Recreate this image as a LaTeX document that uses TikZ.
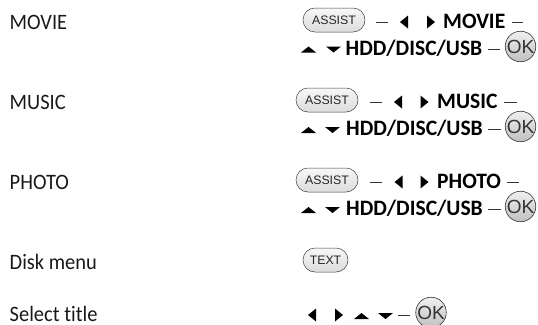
\documentclass[tikz,border=0pt]{standalone}
\usepackage{fontspec}
\setmainfont[Ligatures=NoCommon,FakeStretch=0.93]{Carlito}
\newfontfamily\boldcmdfont[Ligatures=NoCommon,FakeStretch=0.98]{Carlito Bold}
\newfontfamily\keyfont{Liberation Sans}
\tikzset{
  x=1pt,y=-1pt,
  rowlabel/.style={anchor=base west,inner sep=0pt,font=\fontsize{22}{24}\selectfont,text=black!90},
  cmd/.style={anchor=base west,inner sep=0pt,font=\boldcmdfont\fontsize{22}{24}\selectfont,text=black},
  keypill/.style={draw=black!75,line width=0.5pt,rounded corners=12pt,top color=black!3,bottom color=black!14,inner sep=0pt,minimum height=24pt,font=\keyfont\fontsize{12.3}{13}\selectfont,text=black!85},
  okbtn/.style={draw=black!80,line width=0.6pt,circle,inner sep=0pt,minimum size=29.5pt,top color=black!6,bottom color=black!25,font=\keyfont\fontsize{19}{20}\selectfont,text=black!80},
  sep/.style={draw=black!80,line width=0.7pt},
  tri/.style={fill=black,draw=none}
}
\newcommand{\triL}[2]{\fill[tri] (#1,#2) ++(4,-6.5) -- ++(0,13) -- ++(-8,-6.5) -- cycle;}
\newcommand{\triR}[2]{\fill[tri] (#1,#2) ++(-4,-6.5) -- ++(0,13) -- ++(8,-6.5) -- cycle;}
\newcommand{\triU}[2]{\fill[tri] (#1,#2) ++(-7.5,3) -- ++(15,0) -- ++(-7.5,-6) -- cycle;}
\newcommand{\triD}[2]{\fill[tri] (#1,#2) ++(-7.5,-3) -- ++(15,0) -- ++(-7.5,6) -- cycle;}
\begin{document}
\begin{tikzpicture}
\useasboundingbox (0,0) rectangle (538,324);
\node[rowlabel] (l1) at (9.5,29) {MOVIE};
\node[rowlabel] (l2) at (9.5,109) {MUSIC};
\node[rowlabel] (l3) at (9.5,189) {PHOTO};
\node[rowlabel] (l4) at (9.5,269) {Disk menu};
\node[rowlabel] (l5) at (9.5,321.5) {Select title};
% row 1
\node[keypill,minimum width=62pt] (a1) at (334,20) {ASSIST};
\draw[sep] (376,22) -- (388,22);
\triL{404}{22}\triR{431}{22}
\node[cmd] (m1) at (443,28.5) {MOVIE};
\draw[sep] (512,22) -- (523,22);
\triU{308.5}{49.5}\triD{333.5}{49.5}
\node[cmd] (h1) at (345.5,55) {HDD/DISC/USB};
\draw[sep] (488,49.5) -- (500,49.5);
\node[okbtn] (o1) at (520.5,46.5) {OK};
% row 2
\node[keypill,minimum width=62pt] (a2) at (327,100) {ASSIST};
\draw[sep] (370,102) -- (382,102);
\triL{398}{102}\triR{424.5}{102}
\node[cmd] (m2) at (437,108.5) {MUSIC};
\draw[sep] (504,102) -- (517,102);
\triU{308.5}{130}\triD{332.5}{130}
\node[cmd] (h2) at (346,135) {HDD/DISC/USB};
\draw[sep] (488,129.5) -- (501,129.5);
\node[okbtn] (o2) at (520.5,126.5) {OK};
% row 3
\node[keypill,minimum width=62pt] (a3) at (327,180) {ASSIST};
\draw[sep] (370,182) -- (382,182);
\triL{398.5}{182}\triR{424.5}{182}
\node[cmd] (m3) at (437,188.5) {PHOTO};
\draw[sep] (507,182) -- (519,182);
\triU{308.5}{210}\triD{332.5}{210}
\node[cmd] (h3) at (346,215) {HDD/DISC/USB};
\draw[sep] (488,209.5) -- (501,209.5);
\node[okbtn] (o3) at (520.5,206.5) {OK};
% row 4
\node[keypill,minimum width=45pt] (t) at (325.5,260) {TEXT};
% row 5
\triL{312}{315}\triR{339}{315}\triU{361.5}{316}\triD{385.5}{316}
\draw[sep] (398,315) -- (410,315);
\node[okbtn] (o5) at (431,312.5) {OK};
\end{tikzpicture}
\end{document}
